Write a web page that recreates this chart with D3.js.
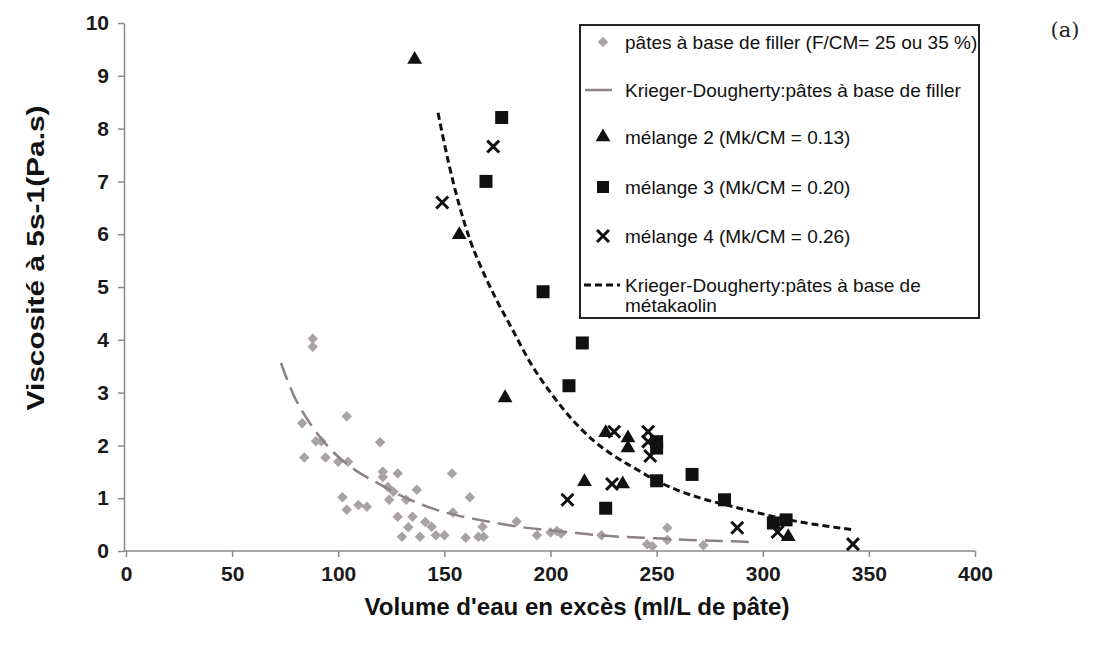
<!DOCTYPE html>
<html><head><meta charset="utf-8">
<script src="https://cdn.jsdelivr.net/npm/d3@7"></script>
<style>body{margin:0;background:#fff}svg{display:block}</style>
</head><body>
<svg id="c" width="1099" height="646"></svg>
<script>
// ---- data ----
const xTicks = [0,50,100,150,200,250,300,350,400];
const yTicks = [0,1,2,3,4,5,6,7,8,9,10];
const fillerPts = [[88,4.02],[88,3.87],[83,2.42],[89.5,2.08],[92,2.08],[84,1.77],[94,1.77],[100,1.69],[104.6,1.69],[104,2.55],[119.7,2.06],[121,1.5],[128,1.47],[121,1.4],[153.6,1.47],[102,1.02],[104,0.78],[109.5,0.87],[113.5,0.84],[123.4,1.21],[126,1.12],[132,0.97],[137,1.16],[124,0.97],[162,1.02],[128,0.65],[135,0.65],[141,0.55],[144,0.46],[133,0.45],[130,0.27],[138.5,0.27],[146,0.3],[150,0.3],[154,0.73],[160,0.25],[166,0.27],[168,0.46],[168.5,0.27],[184,0.56],[193.6,0.3],[200,0.35],[203,0.38],[205,0.33],[224,0.3],[245.5,0.13],[248,0.09],[255,0.44],[255,0.21],[272,0.11]];
const fillerFit = [[73,3.56],[79,2.95],[85,2.52],[91,2.18],[97,1.9],[105,1.62],[110,1.48],[118,1.3],[128,1.08],[138,0.9],[147,0.77],[160,0.64],[172,0.55],[185,0.46],[195,0.41],[210,0.35],[220,0.31],[233,0.27],[250,0.24],[265,0.21],[280,0.19],[295,0.17]];
const mel2 = [[136,9.31],[157,5.99],[178.6,2.9],[226,2.24],[236.5,2.14],[236.5,1.95],[216,1.31],[234,1.27],[312,0.27]];
const mel3 = [[177,8.21],[169.6,7.0],[196.5,4.91],[215,3.94],[208.7,3.13],[250,2.07],[250,1.95],[250,1.33],[266.7,1.45],[282,0.97],[226,0.81],[305,0.53],[311,0.59]];
const mel4 = [[173,7.66],[149,6.6],[230,2.26],[246,2.26],[246,2.07],[247,1.8],[229,1.27],[208,0.97],[288,0.44],[307,0.36],[342.5,0.13]];
const mkFit = [[147,8.3],[152,7.35],[157,6.55],[162,5.9],[167,5.4],[174,4.8],[182,4.2],[190,3.6],[200,3.0],[210,2.5],[220,2.1],[230,1.8],[240,1.56],[250,1.33],[260,1.15],[270,1.01],[282,0.88],[295,0.75],[311,0.6],[325,0.5],[343.5,0.4]];
const legendLabels = ["pâtes à base de filler (F/CM= 25 ou 35 %)","Krieger-Dougherty:pâtes à base de filler","mélange 2 (Mk/CM = 0.13)","mélange 3 (Mk/CM = 0.20)","mélange 4 (Mk/CM = 0.26)","Krieger-Dougherty:pâtes à base de","métakaolin"];
const xTitle = "Volume d'eau en excès (ml/L de pâte)";
const yTitle = "Viscosité à 5s-1(Pa.s)";

// ---- drawing ----
const svg = d3.select("#c");
const x = d3.scaleLinear().domain([0,400]).range([126,975]);
const y = d3.scaleLinear().domain([0,10]).range([551,23]);
const axisCol = "#8a8a8a";
const font = "'Liberation Sans', Arial, sans-serif";

const gx = svg.append("g").attr("transform","translate(0,551)")
  .call(d3.axisBottom(x).tickValues(xTicks).tickSize(6).tickPadding(9).tickSizeOuter(0));
const gy = svg.append("g").attr("transform","translate(124,0)")
  .call(d3.axisLeft(y).tickValues(yTicks).tickSize(6).tickPadding(9).tickSizeOuter(0));
[gx,gy].forEach(g=>{
  g.selectAll("path,line").attr("stroke",axisCol).attr("stroke-width",1.5);
  g.selectAll("text").attr("font-family",font).attr("font-size",21).attr("font-weight","bold").attr("fill","#1a1a1a");
});
gx.select(".domain").attr("d","M124,0H975");

// filler diamonds
const diamond = d3.symbol().type(d3.symbolDiamond2).size(70);
svg.append("g").selectAll("path").data(fillerPts).join("path")
  .attr("d",diamond).attr("transform",d=>`translate(${x(d[0])},${y(d[1])})`).attr("fill","#a9a2a2");

const line = d3.line().x(d=>x(d[0])).y(d=>y(d[1])).curve(d3.curveMonotoneX);
svg.append("path").attr("d",line(fillerFit)).attr("fill","none").attr("stroke","#8c8282").attr("stroke-width",2.5).attr("stroke-dasharray","18,8");
svg.append("path").attr("d",line(mkFit)).attr("fill","none").attr("stroke","#111").attr("stroke-width",3).attr("stroke-dasharray","7,4");

const tri = d3.symbol().type(d3.symbolTriangle).size(95);
svg.append("g").selectAll("path").data(mel2).join("path")
  .attr("d",tri).attr("transform",d=>`translate(${x(d[0])},${y(d[1])})`).attr("fill","#111");
svg.append("g").selectAll("rect").data(mel3).join("rect")
  .attr("x",d=>x(d[0])-6.5).attr("y",d=>y(d[1])-6.5).attr("width",13).attr("height",13).attr("fill","#111");
const cross = d3.symbol().type(d3.symbolTimes).size(95);
svg.append("g").selectAll("path").data(mel4).join("path")
  .attr("d",cross).attr("transform",d=>`translate(${x(d[0])},${y(d[1])})`).attr("fill","none").attr("stroke","#111").attr("stroke-width",3);

// legend
const lg = svg.append("g");
lg.append("rect").attr("x",580).attr("y",25).attr("width",399).attr("height",293).attr("fill","#fff").attr("stroke","#222").attr("stroke-width",2);
const rowsY = [42,90,137,187,236,285,305];
lg.selectAll("text").data(legendLabels).join("text")
  .attr("x",625).attr("y",(d,i)=>rowsY[i]).attr("dy","0.35em")
  .attr("font-family",font).attr("font-size",19)
  .attr("fill","#111").text(d=>d);
lg.append("path").attr("d",diamond).attr("transform",`translate(603,${rowsY[0]})`).attr("fill","#a9a2a2");
lg.append("line").attr("x1",585).attr("x2",612).attr("y1",rowsY[1]).attr("y2",rowsY[1]).attr("stroke","#8c8282").attr("stroke-width",2.5);
lg.append("path").attr("d",tri).attr("transform",`translate(603,${rowsY[2]})`).attr("fill","#111");
lg.append("rect").attr("x",597).attr("y",rowsY[3]-6).attr("width",12).attr("height",12).attr("fill","#111");
lg.append("path").attr("d",cross).attr("transform",`translate(603,${rowsY[4]})`).attr("stroke","#111").attr("stroke-width",3);
lg.append("line").attr("x1",584).attr("x2",620).attr("y1",rowsY[5]).attr("y2",rowsY[5]).attr("stroke","#111").attr("stroke-width",3).attr("stroke-dasharray","7,4");

// titles
svg.append("text").attr("x",577).attr("y",607).attr("dy","0.35em").attr("text-anchor","middle")
  .attr("font-family",font).attr("font-size",24).attr("font-weight","bold").attr("fill","#111")
  .attr("textLength",425).attr("lengthAdjust","spacingAndGlyphs").text(xTitle);
svg.append("text").attr("transform","translate(36,258) rotate(-90)").attr("dy","0.35em").attr("text-anchor","middle")
  .attr("font-family",font).attr("font-size",24).attr("font-weight","bold").attr("fill","#111")
  .attr("textLength",305).attr("lengthAdjust","spacingAndGlyphs").text(yTitle);
svg.append("text").attr("x",1065).attr("y",30).attr("dy","0.35em").attr("text-anchor","middle")
  .attr("font-family","'DejaVu Serif', serif").attr("font-size",21).attr("fill","#222").text("(a)");
</script>
</body></html>
